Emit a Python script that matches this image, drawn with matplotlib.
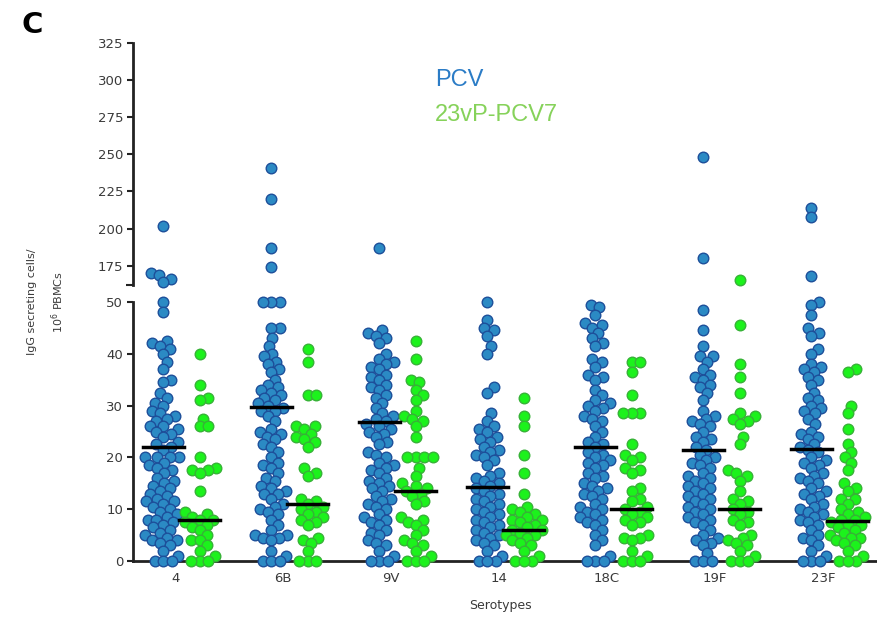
import numpy as np
import matplotlib
matplotlib.use('Agg')
import matplotlib.pyplot as plt

serotypes = ['4', '6B', '9V', '14', '18C', '19F', '23F']

# PCV group (blue), values below the axis break
pcv_low = [
    [50, 48, 42.5, 42, 41.5, 41, 40, 38.5, 37, 35, 34.5, 32.5, 31.5, 30.5, 30, 29, 28.5, 28, 27.5, 27,
     26, 26, 25.5, 25, 24.5, 24, 23, 22.5, 22, 21.5, 20, 20, 20, 20, 19, 18.5, 18, 17.5, 17, 16, 15.5,
     15, 14.5, 14, 13.5, 13, 12.5, 12, 11.5, 11.5, 11, 10.5, 10, 9.5, 9, 8.5, 8, 8, 7.5, 7, 6.5, 6,
     5.5, 5, 4.5, 4, 4, 3.5, 3, 2, 1, 0, 0, 0],
    [50, 50, 50, 45, 45, 43, 41.5, 40, 39.5, 38.5, 38, 37, 36.5, 35, 34, 33.5, 33, 32.5, 32, 31.5, 31,
     30.5, 30, 29.5, 29, 29, 28, 27, 25.5, 25, 24.5, 24, 23.5, 22.5, 22, 21, 20, 19, 18.5, 18, 17, 16,
     15.5, 14.5, 14, 13.5, 13, 13, 12, 11, 10.5, 10, 9.5, 9, 8, 7, 6, 5, 5, 4.5, 4.5, 4, 2, 1,
     0, 0, 0],
    [44.5, 44, 43.5, 43, 42, 40, 39, 38.5, 38, 37.5, 37, 36, 35.5, 35, 34, 33.5, 33, 32, 31.5, 30.5,
     29.5, 28.5, 28, 27.5, 27, 26.5, 26, 25.5, 25, 24.5, 24, 23, 22.5, 21, 20.5, 20, 19, 18.5, 18, 17.5,
     17, 16, 15.5, 15, 14.5, 14, 13.5, 12.5, 12, 11.5, 11, 10.5, 10, 9, 8.5, 8, 7.5, 7, 6, 5.5, 5, 4,
     3.5, 3, 2, 1, 0, 0, 0],
    [50, 46.5, 45, 44.5, 43.5, 41.5, 40, 33.5, 32.5, 28.5, 27, 26, 25.5, 25, 24, 23.5, 23, 22, 21.5, 21,
     20.5, 20, 19.5, 18.5, 17, 16.5, 16, 15.5, 15, 14.5, 14, 13.5, 13, 12.5, 12, 11.5, 11, 10.5, 10, 9.5,
     9, 8.5, 8, 7.5, 7, 6.5, 6, 5.5, 5, 4.5, 4, 3.5, 3, 2, 1, 0, 0, 0],
    [49.5, 49, 47.5, 46, 45.5, 45, 44, 43, 42, 41.5, 39, 38.5, 37.5, 36, 35.5, 35, 33, 32, 31, 30.5, 30,
     29.5, 29, 28, 27.5, 27, 26, 25, 24, 23, 22.5, 22, 21, 20.5, 20, 19.5, 19, 18.5, 18, 17, 16.5, 16,
     15, 14.5, 14, 13.5, 13, 12.5, 12, 11, 10.5, 10, 9.5, 9, 8.5, 8, 7.5, 7, 6, 5, 4, 3, 1,
     0, 0, 0],
    [48.5, 44.5, 41.5, 39.5, 39.5, 38.5, 37, 36, 35.5, 35, 34, 33.5, 32.5, 31, 29, 28, 27.5, 27, 26.5,
     26, 25, 24, 23.5, 23, 22, 21.5, 20.5, 20, 19.5, 19, 18.5, 18, 17, 16.5, 16, 15.5, 15, 14.5, 14,
     13.5, 13, 12.5, 12, 11.5, 11, 10.5, 10, 9.5, 9, 8.5, 8, 7.5, 7, 6, 5, 4.5, 4, 3.5, 3, 1.5,
     0, 0, 0],
    [50, 49.5, 47.5, 45, 44, 43.5, 41, 40, 38, 37.5, 37, 36.5, 35.5, 35, 34, 32.5, 31.5, 31, 30, 29.5,
     29, 28.5, 27.5, 26.5, 25, 24.5, 24, 23.5, 22.5, 22, 21.5, 21, 20, 19.5, 19, 18.5, 18, 17, 16.5, 16,
     15.5, 15, 14, 13.5, 13, 12.5, 12, 11, 10.5, 10, 9.5, 9, 8.5, 8, 7.5, 7, 6, 5, 4.5, 4, 3, 2,
     1, 0, 0, 0],
]
# PCV values above the break
pcv_high = [[202, 170, 169, 166, 164], [241, 220, 187, 174], [187], [], [], [248, 180], [214, 208, 168]]

# 23vP-PCV7 group (green)
ppv_low = [
    [40, 34, 31.5, 31, 27.5, 26, 26, 20, 18, 17.5, 17.5, 17, 13.5, 9.5, 9, 8.5, 8, 8, 7.5, 7, 6.5, 6, 5,
     4, 4, 3, 2, 1, 0, 0, 0],
    [41, 38.5, 32, 32, 26, 26, 25.5, 24.5, 24, 23.5, 23, 22, 18, 17, 16.5, 12, 11.5, 11, 10.5, 10, 9.5,
     9, 8.5, 8, 7.5, 7, 4.5, 4, 3.5, 2, 0, 0, 0],
    [42.5, 39, 35, 34.5, 33, 32, 31, 29, 28, 27.5, 27, 26, 24, 20, 20, 20, 20, 18, 16.5, 15, 14.5, 14,
     13.5, 13, 12.5, 11.5, 11, 8.5, 8, 7.5, 7, 6, 5, 4, 3.5, 3, 2, 1, 0, 0, 0],
    [31.5, 28, 26, 20.5, 17, 13, 10.5, 10, 9.5, 9, 8.5, 8, 8, 7.5, 7, 6.5, 6, 6, 5.5, 5, 5, 4.5, 4, 3.5,
     3, 2, 1, 0, 0, 0],
    [38.5, 38.5, 36.5, 32, 28.5, 28.5, 28.5, 22.5, 20.5, 20, 19.5, 18, 17.5, 17, 14, 13.5, 12, 11.5,
     10.5, 10, 9.5, 9, 8.5, 8, 7.5, 7, 5, 4.5, 4.5, 4, 2, 1, 0, 0, 0],
    [45.5, 38, 35.5, 32.5, 28.5, 28, 27.5, 27, 26.5, 24, 22.5, 17.5, 17, 16.5, 15.5, 13.5, 12, 11.5, 11,
     10, 9.5, 9, 8, 7.5, 7, 5, 4.5, 4, 3.5, 3, 2, 1, 0, 0, 0],
    [37, 36.5, 30, 28.5, 25.5, 22.5, 21, 20, 19, 17.5, 15, 14, 13.5, 12, 12, 11, 10, 9.5, 9, 8.5, 8, 8,
     7.5, 7, 7, 6.5, 6, 5.5, 5, 4.5, 4.5, 4, 3.5, 3, 2, 1, 0, 0, 0],
]
ppv_high = [[], [], [], [], [], [165.5], []]

pcv_median = [22, 29.7, 26.8, 14.2, 22, 21.5, 21.7]
ppv_median = [8, 11, 13.6, 6, 10, 10, 7.8]

blue_face, blue_edge = '#2b8ac4', '#1d4f9a'
green_face, green_edge = '#1cf21c', '#37b237'
ink = '#3a3a3a'

W, H = 878, 628
fig = plt.figure(figsize=(W / 100, H / 100), dpi=100)
left, right = 133 / W, 877 / W
ax_lo = fig.add_axes([left, (H - 561) / H, right - left, (561 - 302) / H])
ax_hi = fig.add_axes([left, (H - 285) / H, right - left, (285 - 43) / H])

xlim = (-0.39, 6.5)
for ax in (ax_lo, ax_hi):
    ax.set_xlim(*xlim)
    ax.spines['top'].set_visible(False)
    ax.spines['right'].set_visible(False)
    ax.spines['left'].set_linewidth(2)
    ax.spines['left'].set_color('#222222')
    ax.tick_params(axis='y', length=4, width=1.5, color='#222222', labelsize=9.5, labelcolor=ink, pad=3)
ax_lo.set_ylim(0, 50)
ax_hi.set_ylim(162, 325)
ax_lo.set_yticks(range(0, 51, 10))
ax_hi.set_yticks(range(175, 326, 25))
ax_hi.set_yticks([162], minor=True)
ax_hi.tick_params(axis='y', which='minor', length=5, width=1.5, color='#222222')
ax_hi.spines['bottom'].set_visible(False)
ax_hi.set_xticks([])
ax_lo.spines['bottom'].set_linewidth(2)
ax_lo.spines['bottom'].set_color('#222222')
ax_lo.set_xticks(range(len(serotypes)))
ax_lo.set_xticklabels(serotypes)
ax_lo.tick_params(axis='x', length=0, labelsize=9.5, labelcolor=ink, pad=8)

D = 8.5  # dot spacing in pixels (dots overlap a little, as in the figure)


def swarm(ys_px, d=D):
    xs = np.zeros(len(ys_px))
    placed = []
    for i in np.argsort(ys_px):
        y = ys_px[i]
        near = [(px, py) for px, py in placed if abs(py - y) < d]
        cands = [0.0]
        for px, py in near:
            dx = np.sqrt(d * d - (py - y) ** 2)
            cands += [px + dx, px - dx]
        cands.sort(key=abs)
        for c in cands:
            if all((c - px) ** 2 + (y - py) ** 2 >= d * d - 1e-6 for px, py in near):
                xs[i] = c
                break
        placed.append((xs[i], y))
    return xs


def draw_group(ax, center, values, face, edge):
    if not values:
        return
    vals = np.asarray(values, dtype=float)
    pts = ax.transData.transform(np.column_stack([np.full(len(vals), center), vals]))
    offs = swarm(pts[:, 1])
    px_per_unit = ax.transData.transform((1, 0))[0] - ax.transData.transform((0, 0))[0]
    ax.scatter(center + offs / px_per_unit, vals, s=58, c=face, edgecolors=edge,
               linewidths=1.0, clip_on=False, zorder=3)


for i in range(len(serotypes)):
    draw_group(ax_lo, i - 0.11, pcv_low[i], blue_face, blue_edge)
    draw_group(ax_hi, i - 0.11, pcv_high[i], blue_face, blue_edge)
for i in range(len(serotypes)):
    draw_group(ax_lo, i + 0.23, ppv_low[i], green_face, green_edge)
    draw_group(ax_hi, i + 0.23, ppv_high[i], green_face, green_edge)
for i in range(len(serotypes)):
    ax_lo.plot([i - 0.11 - 0.19, i - 0.11 + 0.19], [pcv_median[i]] * 2, color='black', lw=2.5, zorder=5)
    ax_lo.plot([i + 0.23 - 0.19, i + 0.23 + 0.19], [ppv_median[i]] * 2, color='black', lw=2.5, zorder=5)

fig.text(32 / W, 1 - 302 / H, 'IgG secreting cells/', rotation=90, ha='center', va='center',
         fontsize=8, color=ink)
fig.text(58 / W, 1 - 302 / H, '10$^6$ PBMCs', rotation=90, ha='center', va='center',
         fontsize=8, color=ink)
fig.text(500 / W, 1 - 605 / H, 'Serotypes', ha='center', va='center', fontsize=9, color=ink)
fig.text(32 / W, 1 - 25 / H, 'C', ha='center', va='center', fontsize=21, fontweight='bold')
fig.text(435 / W, 1 - 80 / H, 'PCV', ha='left', va='center', fontsize=17,
         family='Liberation Sans', color='#2b7cc6')
fig.text(435 / W, 1 - 115 / H, '23vP-PCV7', ha='left', va='center', fontsize=17,
         family='Liberation Sans', color='#86d25a')

fig.savefig('out.png', dpi=100)
